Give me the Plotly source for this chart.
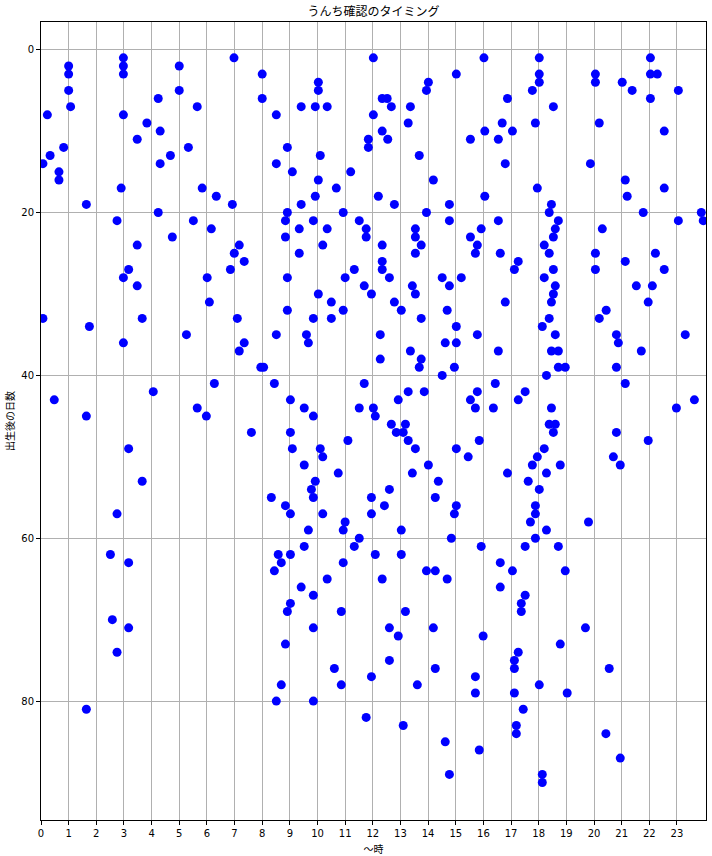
import plotly.graph_objects as go

# hour of day (x) and days after birth (y) for each observation
hours = [
    1.00, 1.00, 1.00, 1.07, 0.23, 0.07, 0.33, 0.82, 0.65, 0.65, 1.64, 2.90, 2.98, 2.98, 2.98, 2.98,
    4.24, 3.83, 4.31, 3.48, 4.31, 4.68, 5.33, 5.00, 5.00, 5.65, 6.98, 8.00, 8.00, 5.83, 6.34, 6.92,
    4.24, 2.75, 5.51,
    12.02, 10.03, 10.03, 8.51, 9.41, 9.92, 10.35, 12.34, 12.52, 12.67, 13.36, 12.02, 14.01, 13.94,
    15.02, 16.02, 13.28, 12.34, 11.84, 12.54, 11.84, 15.53, 16.05, 8.91, 10.10, 13.68, 8.51, 9.09,
    11.20, 10.03, 14.19, 10.68, 9.92, 12.20, 9.41, 12.78, 14.77, 16.05, 8.91, 10.93, 13.94, 8.84,
    9.85, 11.51, 14.77,
    18.02, 22.04, 18.02, 18.02, 20.05, 20.05, 22.04, 22.29, 21.02, 17.77, 21.38, 23.05, 16.87, 22.04,
    18.53, 16.68, 17.88, 20.19, 17.05, 22.54, 16.54, 16.79, 19.87, 21.13, 17.95, 22.54, 21.20, 18.46,
    18.38, 21.78, 23.88, 16.54, 18.71, 23.05, 23.95,
    6.16, 4.75, 3.48, 7.17, 6.99, 7.35, 3.17, 6.85, 2.98, 6.01, 3.48, 6.09, 0.07, 3.66, 7.10, 1.75,
    5.26, 2.98, 7.35, 7.17, 7.95, 6.27, 4.06, 0.48, 5.65, 1.64, 5.98,
    9.34, 10.35, 11.76, 13.54, 15.92, 8.84, 11.76, 13.54, 15.53, 10.19, 12.34, 13.75, 15.78, 9.34,
    13.54, 15.71, 12.34, 11.33, 12.34, 8.91, 11.00, 12.60, 14.51, 15.20, 11.69, 13.43, 14.77, 10.03,
    11.95, 13.54, 10.50, 12.78, 8.91, 10.93, 13.03, 14.69, 9.85, 10.50, 13.75, 15.02, 8.51, 9.60,
    12.27, 15.78, 9.67, 14.62, 15.02, 13.36, 12.27, 13.75, 8.05, 13.68, 14.95, 14.51, 8.44, 11.69,
    13.28, 13.86, 15.78, 9.02, 12.92, 15.53, 9.52, 11.51, 12.02, 15.71, 9.85, 12.09, 12.67, 13.18,
    18.60, 20.30, 18.53, 18.20, 16.61, 18.38, 20.05, 22.22, 17.26, 21.13, 17.12, 18.53, 20.05, 22.54,
    18.20, 18.60, 21.53, 22.11, 18.53, 16.79, 18.46, 21.96, 20.44, 18.38, 20.19, 18.13, 18.60, 20.81,
    23.30, 20.88, 16.54, 18.46, 18.71, 21.71, 18.71, 18.96, 20.81, 18.28, 16.43, 21.13, 17.51, 17.26,
    23.63, 16.36, 18.46, 22.98, 18.38, 18.60,
    7.61, 3.17, 3.66, 2.75, 2.51, 3.17, 2.58, 3.17, 2.75, 1.64,
    12.85, 13.10, 9.02, 11.10, 13.28, 15.85, 9.09, 10.10, 13.54, 15.02, 10.19, 15.45, 9.52, 14.01,
    10.75, 13.43, 9.92, 14.37, 9.78, 12.60, 8.33, 9.85, 11.95, 14.26, 8.84, 12.42, 15.02, 9.02,
    10.19, 11.95, 14.95, 11.00, 9.67, 10.93, 13.03, 11.51, 14.84, 9.52, 11.33, 15.92, 8.58, 9.02,
    12.09, 13.03, 8.69, 10.93, 8.44, 13.94, 14.26, 10.35, 12.34, 14.69, 9.41, 9.85, 9.02, 8.91,
    10.86, 13.18,
    9.85, 12.60, 14.19, 12.92, 15.99, 8.84, 12.60, 10.61, 14.26, 11.95, 15.71, 8.69, 10.86, 13.61,
    15.71, 8.51, 9.85, 11.76, 13.10, 14.62, 15.85, 14.77,
    18.53, 20.81, 21.96, 18.20, 17.95, 20.70, 17.77, 18.78, 20.95, 16.87, 18.28, 17.62, 18.02, 17.88,
    17.88, 17.70, 19.80, 18.28, 17.88, 17.51, 18.71, 16.61, 17.05, 18.96, 16.61, 17.51, 17.37, 17.37,
    19.69, 18.78, 17.26, 17.12, 17.12, 20.55, 18.02, 17.12, 19.03, 17.44, 17.19, 17.19, 20.43, 20.95,
    18.13, 18.13,
]

days = [
    2, 3, 5, 7, 8, 14, 13, 12, 15, 16, 19, 17, 1, 2, 3, 8,
    6, 9, 10, 11, 14, 13, 12, 2, 5, 7, 1, 3, 6, 17, 18, 19,
    20, 21, 21,
    1, 4, 5, 8, 7, 7, 7, 6, 6, 7, 7, 8, 4, 5,
    3, 1, 9, 10, 11, 11, 12, 11, 10, 12, 13, 13, 14, 15,
    15, 16, 16, 17, 18, 18, 19, 19, 19, 18, 20, 20, 20, 21,
    21, 21, 21,
    1, 1, 3, 4, 3, 4, 3, 3, 4, 5, 5, 5, 6, 6,
    7, 9, 9, 9, 10, 10, 11, 14, 14, 16, 17, 17, 18, 19,
    20, 20, 20, 21, 21, 21, 21,
    22, 23, 24, 24, 25, 26, 27, 27, 28, 28, 29, 31, 33, 33, 33, 34,
    35, 36, 36, 37, 39, 41, 42, 43, 44, 45, 45,
    22, 22, 22, 22, 22, 23, 23, 23, 23, 24, 24, 24, 24, 25,
    25, 25, 26, 27, 27, 28, 28, 28, 28, 28, 29, 29, 29, 30,
    30, 30, 31, 31, 32, 32, 32, 32, 33, 33, 33, 34, 35, 35,
    35, 35, 36, 36, 36, 37, 38, 38, 39, 39, 39, 40, 41, 41,
    42, 42, 42, 43, 43, 43, 44, 44, 44, 44, 45, 45, 46, 46,
    22, 22, 23, 24, 25, 25, 25, 25, 26, 26, 27, 27, 27, 27,
    28, 29, 29, 29, 30, 31, 31, 31, 32, 33, 33, 34, 35, 35,
    35, 36, 37, 37, 37, 37, 39, 39, 39, 40, 41, 41, 42, 43,
    43, 44, 44, 44, 46, 46,
    47, 49, 53, 57, 62, 63, 70, 71, 74, 81,
    47, 47, 47, 48, 48, 48, 49, 49, 49, 49, 50, 50, 51, 51,
    52, 52, 53, 53, 54, 54, 55, 55, 55, 55, 56, 56, 56, 57,
    57, 57, 57, 58, 59, 59, 59, 60, 60, 61, 61, 61, 62, 62,
    62, 62, 63, 63, 64, 64, 64, 65, 65, 65, 66, 67, 68, 69,
    69, 69,
    71, 71, 71, 72, 72, 73, 75, 76, 76, 77, 77, 78, 78, 78,
    79, 80, 80, 82, 83, 85, 86, 89,
    47, 47, 48, 49, 50, 50, 51, 51, 51, 52, 52, 53, 54, 56,
    57, 58, 58, 59, 60, 61, 61, 63, 64, 64, 66, 67, 68, 69,
    71, 73, 74, 75, 76, 76, 78, 79, 79, 81, 83, 84, 84, 87,
    89, 90,
]

x_ticks = list(range(24))
y_ticks = [0, 20, 40, 60, 80]

title = "うんち確認のタイミング"
x_label = "〜時"
y_label = "出生後の日数"

fig = go.Figure()
fig.add_trace(go.Scatter(
    x=hours, y=days, mode="markers",
    marker=dict(color="#0000ff", size=9, line=dict(width=0)),
    hoverinfo="x+y", showlegend=False,
))

cjk = "Noto Sans CJK JP, sans-serif"
fig.update_layout(
    width=712, height=856,
    margin=dict(l=41, r=6, t=22, b=36, autoexpand=False),
    paper_bgcolor="white", plot_bgcolor="white",
    font=dict(family="DejaVu Sans, Noto Sans CJK JP, sans-serif", size=10, color="black"),
    title=dict(text=title, x=0.5, xanchor="center", xref="paper",
               y=1 - 12 / 856, yref="container", yanchor="middle",
               font=dict(family=cjk, size=12, color="black")),
)
fig.update_xaxes(
    range=[0, 24.05], tickmode="array", tickvals=x_ticks, ticktext=[str(t) for t in x_ticks],
    showgrid=True, gridcolor="#b0b0b0", gridwidth=1, zeroline=False,
    showline=True, linecolor="black", linewidth=1, mirror=True,
    ticks="outside", ticklen=4, tickcolor="black", automargin=False,
    title=dict(text=x_label, font=dict(family=cjk, size=10)),
)
fig.update_yaxes(
    range=[94.6, -3.4], tickmode="array", tickvals=y_ticks, ticktext=[str(t) for t in y_ticks],
    showgrid=True, gridcolor="#b0b0b0", gridwidth=1, zeroline=False,
    showline=True, linecolor="black", linewidth=1, mirror=True,
    ticks="outside", ticklen=4, tickcolor="black", automargin=False,
    title=dict(text=y_label, standoff=4, font=dict(family=cjk, size=10)),
)

fig.write_html(
    "out.html",
    config={"displayModeBar": False},
    post_script="document.body.style.margin='0';document.body.style.padding='0';",
)
